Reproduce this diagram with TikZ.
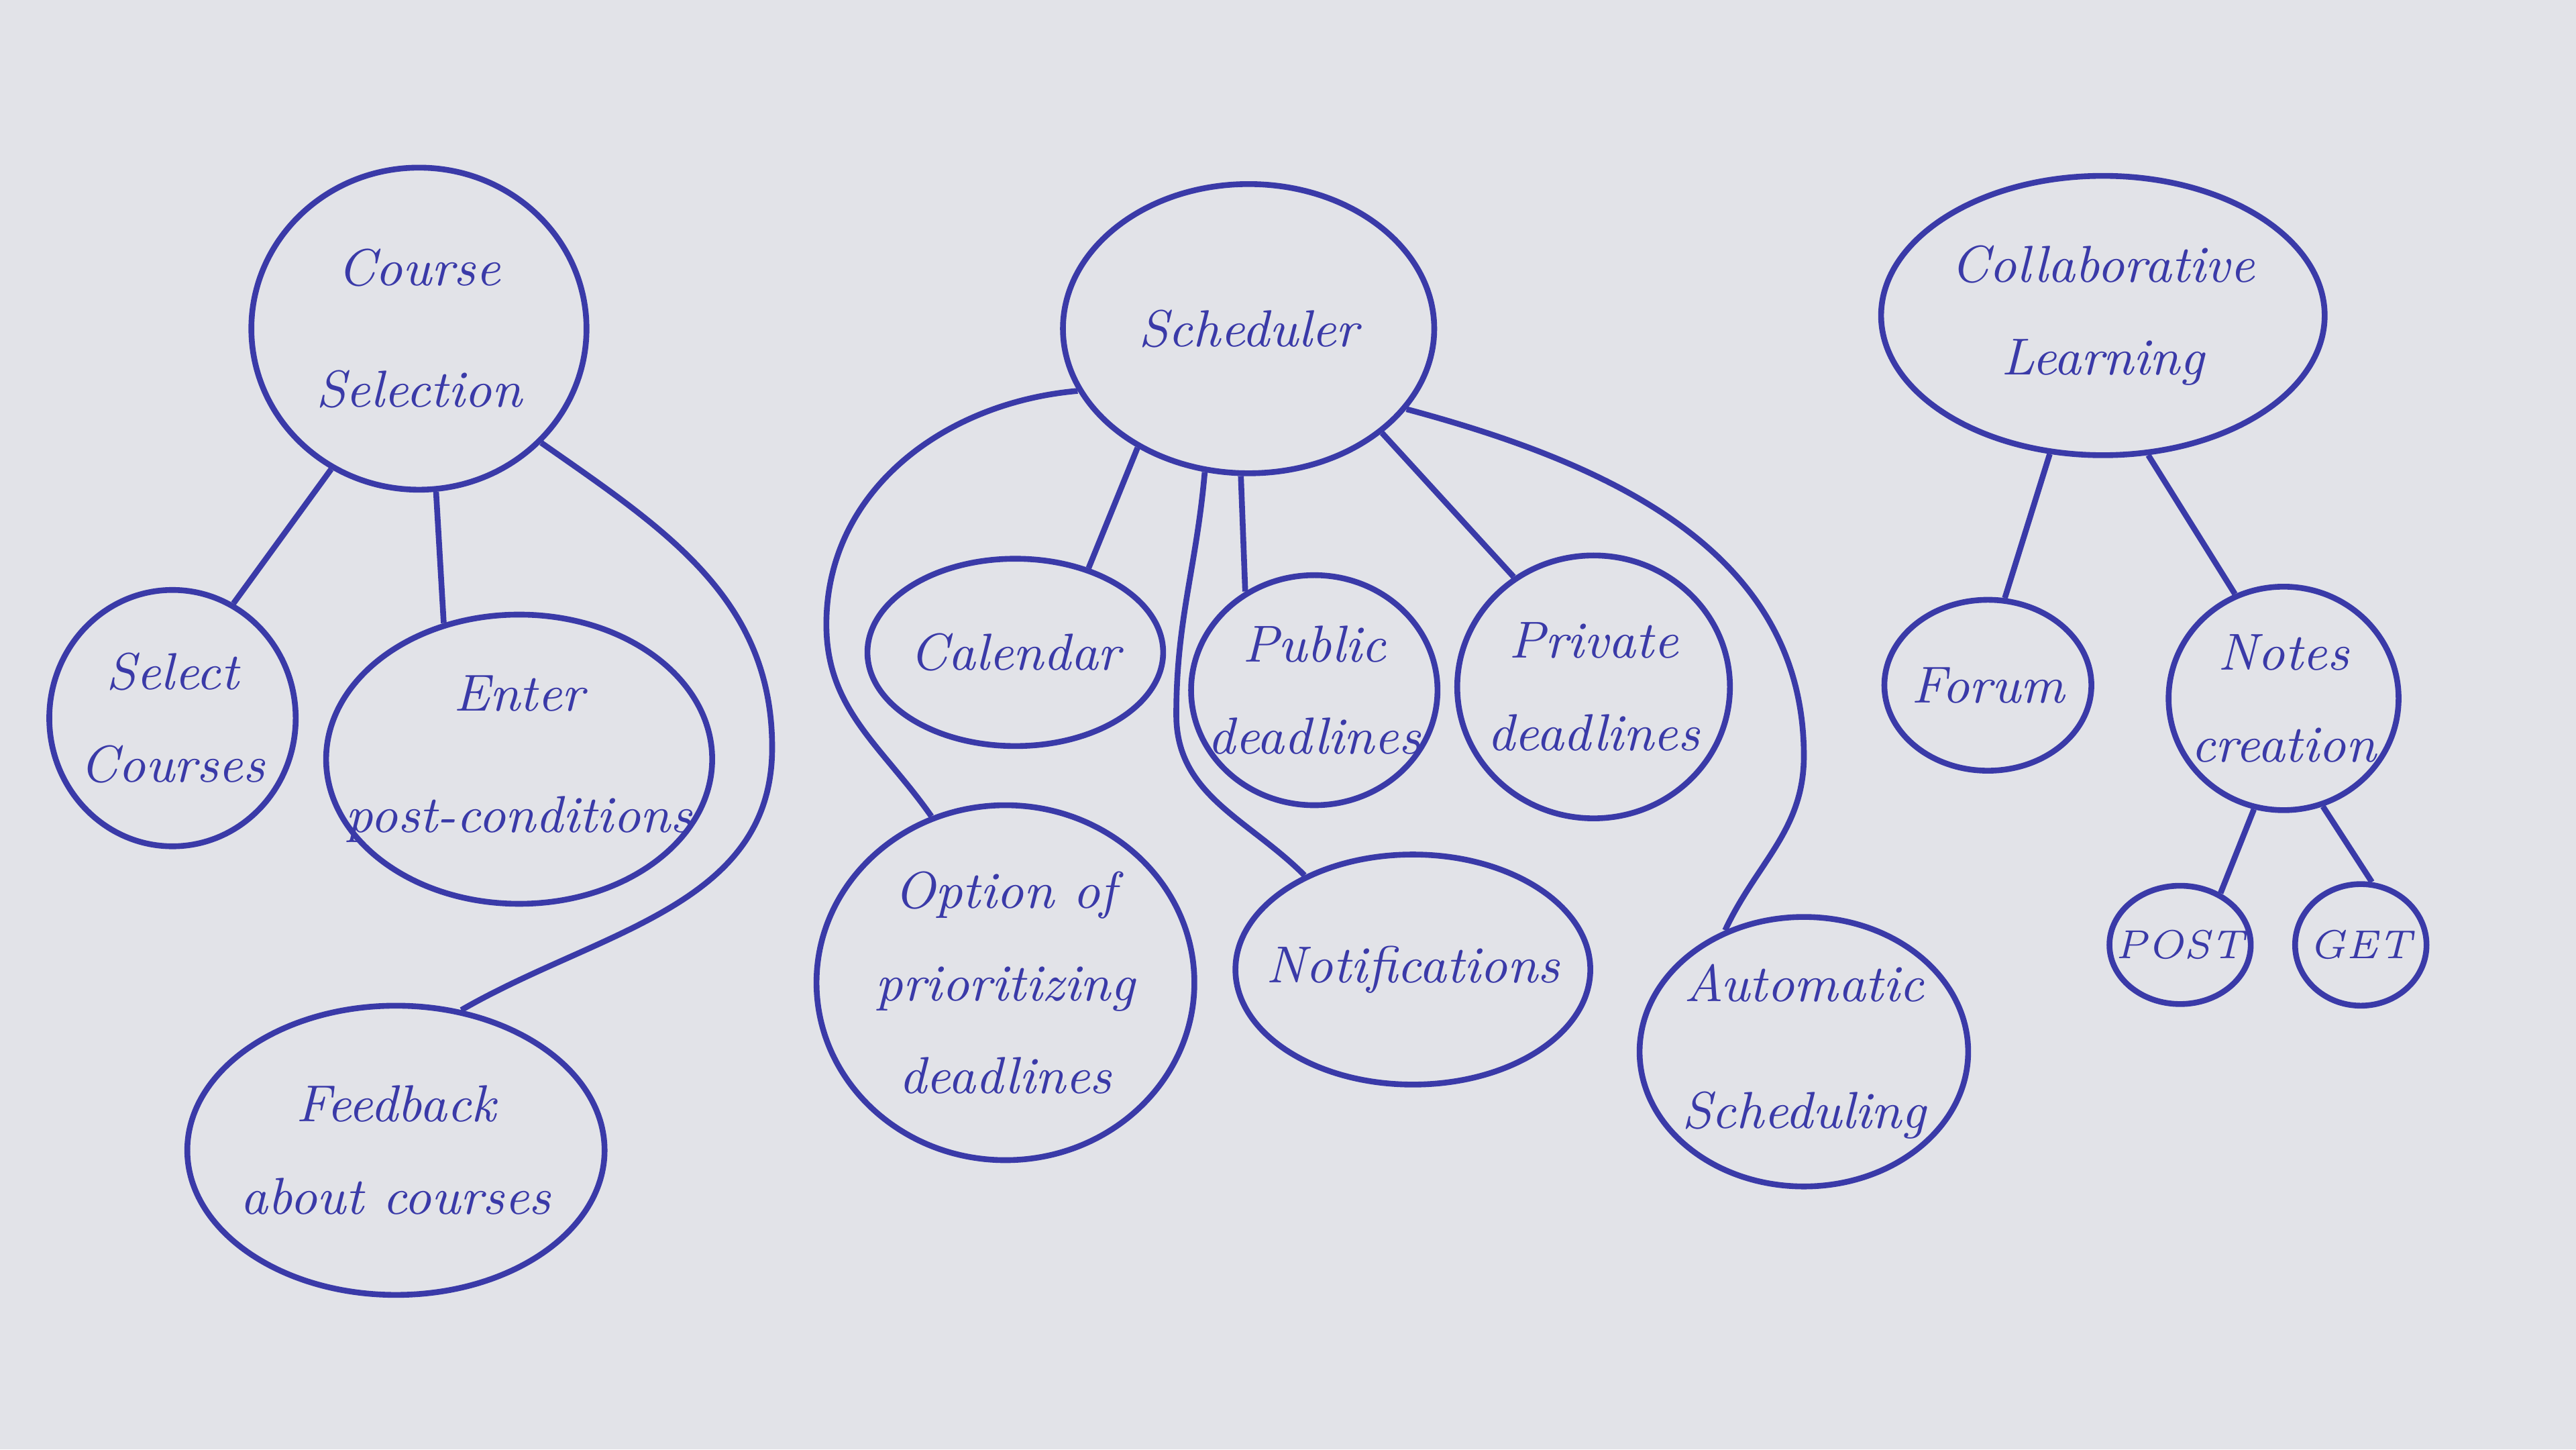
\documentclass[tikz,border=0pt]{standalone}
\usepackage{tikz}
\usepackage{xcolor}
\usetikzlibrary{shapes.geometric}

\definecolor{ink}{RGB}{58,58,168}
\definecolor{paper}{RGB}{226,227,232}

\begin{document}
\begin{tikzpicture}[scale=1,
	bubble/.style={ellipse, draw=ink, line width=1pt, inner sep=0pt},
	txt/.style={text=ink, align=center, inner sep=0pt, font=\itshape\fontsize{9}{16}\selectfont},
	small/.style={txt, font=\itshape\fontsize{7}{9}\selectfont},
	link/.style={draw=ink, line width=1pt}]
		%paper
		\fill[paper] (0,0) rectangle (15.68,-8.82);
		\useasboundingbox (0,0) rectangle (15.68,-8.82);
		
		%course selection
		\node[bubble, minimum width=2.04cm, minimum height=1.96cm, label={[txt]center:{Course\\[5pt] Selection}}] (cs) at (2.55,-2.00) {};
		\node[bubble, minimum width=1.50cm, minimum height=1.56cm, label={[txt]center:{Select\\ Courses}}] (sel) at (1.05,-4.37) {};
		\node[bubble, minimum width=2.35cm, minimum height=1.76cm, label={[txt]center:{Enter\\[5pt] post-conditions}}] (ent) at (3.16,-4.62) {};
		\node[bubble, minimum width=2.54cm, minimum height=1.76cm, label={[txt]center:{Feedback\\ about courses}}] (fb) at (2.41,-7.00) {};
		
		%scheduler
		\node[bubble, minimum width=2.26cm, minimum height=1.76cm, label={[txt]center:Scheduler}] (sch) at (7.60,-2.00) {};
		\node[bubble, minimum width=1.80cm, minimum height=1.14cm, label={[txt]center:Calendar}] (cal) at (6.18,-3.97) {};
		\node[bubble, minimum width=1.50cm, minimum height=1.40cm, label={[txt]center:{Public\\ deadlines}}] (pub) at (8.00,-4.20) {};
		\node[bubble, minimum width=1.66cm, minimum height=1.60cm, label={[txt]center:{Private\\ deadlines}}] (prv) at (9.70,-4.18) {};
		\node[bubble, minimum width=2.30cm, minimum height=2.16cm, label={[txt]center:{Option of\\ prioritizing\\ deadlines}}] (opt) at (6.12,-5.98) {};
		\node[bubble, minimum width=2.16cm, minimum height=1.40cm, label={[txt]center:Notifications}] (ntf) at (8.60,-5.90) {};
		\node[bubble, minimum width=2.00cm, minimum height=1.64cm, label={[txt]center:{Automatic\\[6pt] Scheduling}}] (aut) at (10.98,-6.40) {};
		
		%collaborative learning
		\node[bubble, minimum width=2.70cm, minimum height=1.70cm, label={[txt]center:{Collaborative\\ Learning}}] (col) at (12.80,-1.92) {};
		\node[bubble, minimum width=1.26cm, minimum height=1.04cm, label={[txt]center:Forum}] (frm) at (12.10,-4.17) {};
		\node[bubble, minimum width=1.40cm, minimum height=1.36cm, label={[txt]center:{Notes\\ creation}}] (nts) at (13.90,-4.25) {};
		\node[bubble, minimum width=0.86cm, minimum height=0.72cm, label={[small]center:POST}] (pst) at (13.27,-5.75) {};
		\node[bubble, minimum width=0.80cm, minimum height=0.74cm, label={[small]center:GET}] (get) at (14.37,-5.75) {};
		
		%straight links
		\foreach \a/\b in {cs.-122/sel.62, cs.-84/ent.119, sch.-133/cal.49, sch.-93/pub.125,
			sch.-38/prv.126, col.-111/frm.79, col.-72/nts.115, nts.-105/pst.52, nts.-70/get.80}
		\draw[link] (\a) -- (\b);
		
		%curved links
		\coordinate (fbbend) at (4.70,-4.55);
		\coordinate (optbend) at (5.03,-3.80);
		\coordinate (ntfbend) at (7.16,-4.35);
		\coordinate (autbend) at (10.98,-4.60);
		\draw[link] (cs.-43) to[out=-35, in=90] (fbbend) to[out=-90, in=30] (fb.65);
		\draw[link] (sch.-160) to[out=-175, in=90] (optbend) to[out=-90, in=125] (opt.114);
		\draw[link] (sch.-107) to[out=-95, in=90] (ntfbend) to[out=-90, in=135] (ntf.139);
		\draw[link] (sch.-27.5) to[out=-15, in=90] (autbend) to[out=-90, in=65] (aut.123);
	
	\end{tikzpicture}
\end{document}
